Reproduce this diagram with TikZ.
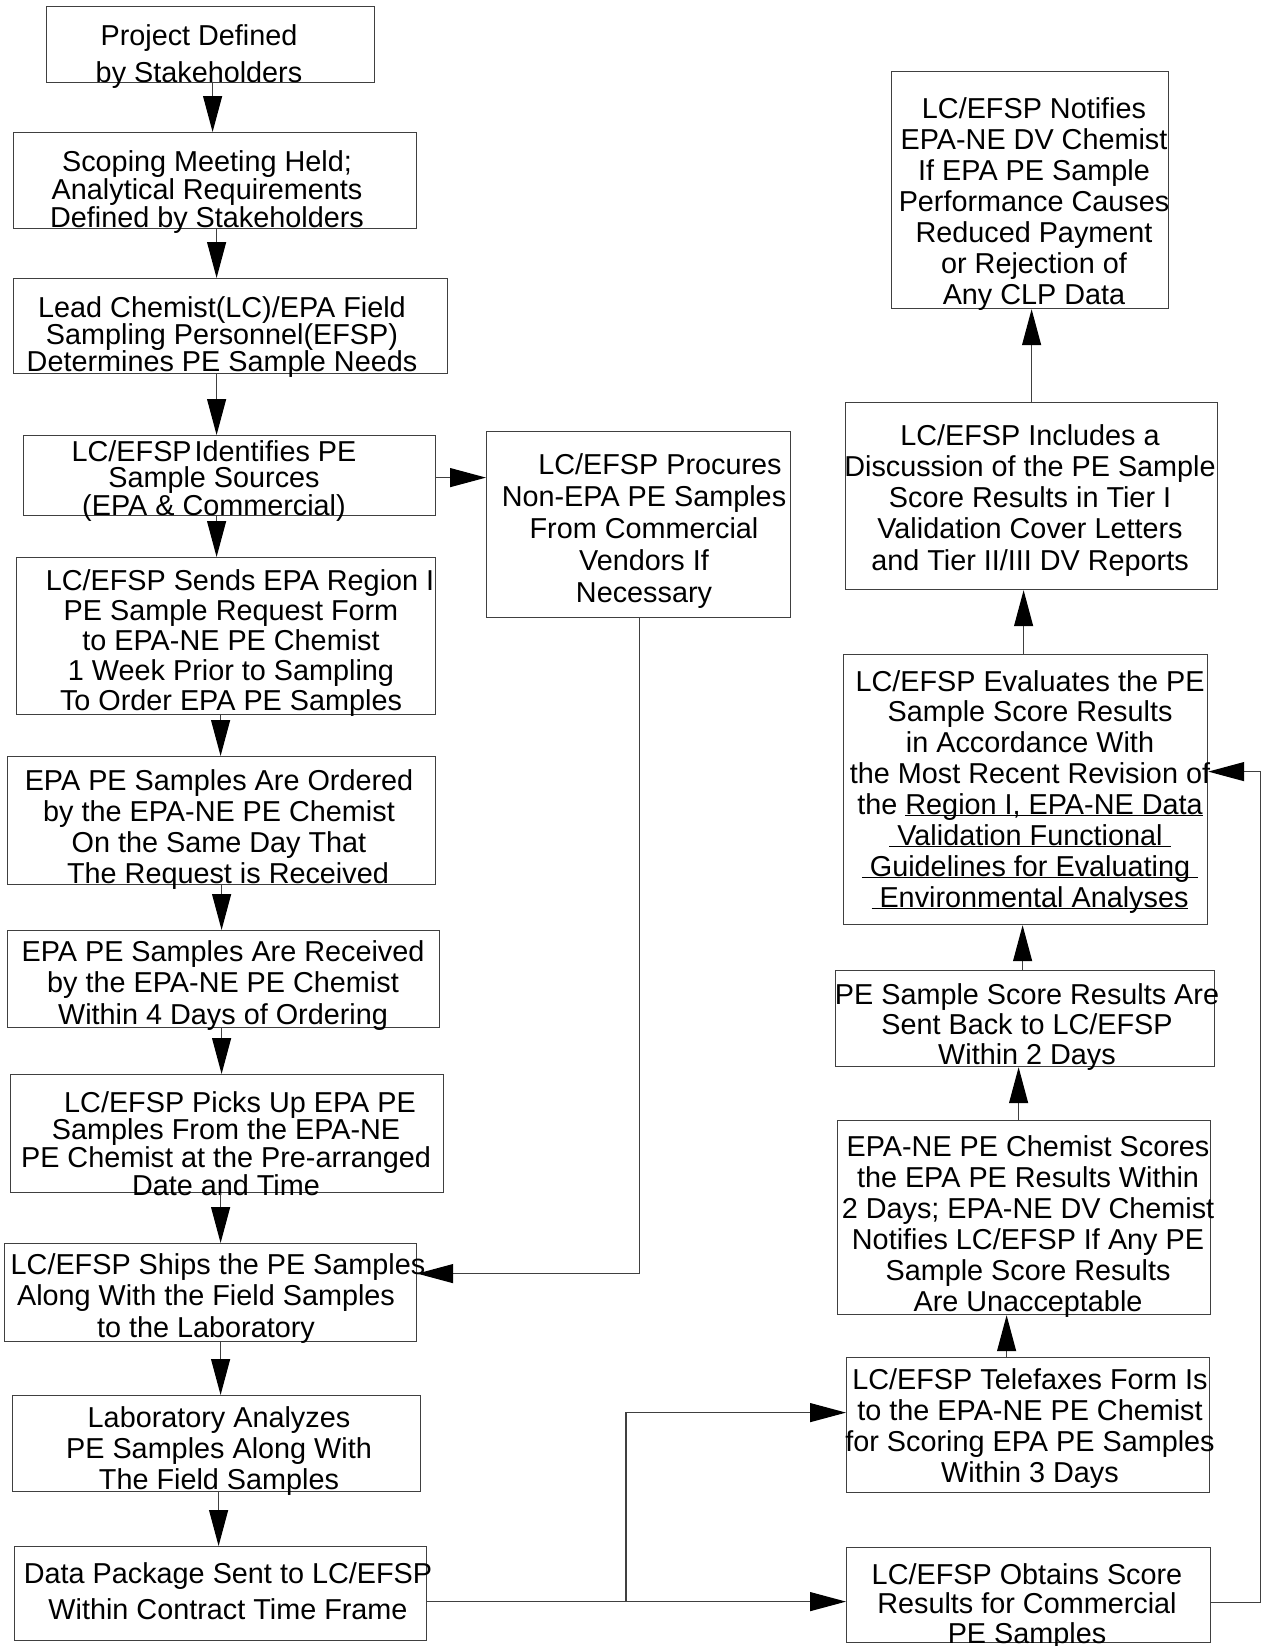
\documentclass[tikz,border=0pt]{standalone}
\usepackage{fontspec}
\setmainfont{Liberation Sans}
\usetikzlibrary{arrows.meta}
\newsavebox\ulbox
\newcommand{\bul}[1]{\sbox\ulbox{#1}\rlap{\rule[-1.5pt]{\wd\ulbox}{1.1pt}}\usebox\ulbox}
\begin{document}
\begin{tikzpicture}[x=1pt,y=-1pt,
  box/.style={draw=black!75, line width=1.2pt, inner sep=0pt, anchor=north west},
  txt/.style={font=\fontsize{28.8}{#1}\selectfont, align=center, inner sep=0pt, anchor=north},
  txt/.default=31,
  arr/.style={draw=black!75, line width=1.2pt, -{Triangle[length=36pt,width=19pt,color=black]}}]
\fill[white] (0,0) rectangle (1264,1646);
\useasboundingbox (0,0) rectangle (1264,1646);

% left column
\node[box,minimum width=328pt,minimum height=76pt] (b1) at (46,6) {};
\node[txt=37] (t1) at (199,24) {Project Defined\\by Stakeholders};

\node[box,minimum width=403pt,minimum height=96pt] (b2) at (13,132) {};
\node[txt=28] (t2) at (207,150) {Scoping Meeting Held;\\Analytical Requirements\\Defined by Stakeholders};

\node[box,minimum width=434pt,minimum height=95pt] (b3) at (13,278) {};
\node[txt=27] (t3) at (222,296) {Lead Chemist(LC)/EPA Field\\Sampling Personnel(EFSP)\\Determines PE Sample Needs};

\node[box,minimum width=412pt,minimum height=80pt] (b4) at (23,435) {};
\node[txt=26.5] (t4) at (214,440) {LC/EFSP\hspace{3pt}Identifies PE\\Sample Sources\\(EPA \& Commercial)};

\node[box,minimum width=419pt,minimum height=157pt] (b5) at (16,557) {};
\node[txt=30] (t5) at (231,569) {\hspace*{18pt}LC/EFSP Sends EPA Region I\\PE Sample Request Form\hspace*{24pt}\\to EPA-NE PE Chemist\\1 Week Prior to Sampling\\To Order EPA PE Samples};

\node[box,minimum width=428pt,minimum height=128pt] (b6) at (7,756) {};
\node[txt=31] (t6) at (219,769) {EPA PE Samples Are Ordered\\by the EPA-NE PE Chemist\\On the Same Day That\\\hspace*{18pt}The Request is Received};

\node[box,minimum width=432pt,minimum height=97pt] (b7) at (7,930) {};
\node[txt=31.5] (t7) at (223,940) {EPA PE Samples Are Received\\by the EPA-NE PE Chemist\hspace*{58pt}\\Within 4 Days of Ordering};

\node[box,minimum width=433pt,minimum height=118pt] (b8) at (10,1074) {};
\node[txt=26.5] (t8) at (226,1091) {\hspace*{28pt}LC/EFSP Picks Up EPA PE\\Samples From the EPA-NE\\PE Chemist at the Pre-arranged\\Date and Time};

\node[box,minimum width=412pt,minimum height=98pt] (b9) at (4,1243) {};
\node[txt=31.5] (t9) at (206,1253) {\hspace*{24pt}LC/EFSP Ships the PE Samples\\Along With the Field Samples\\to the Laboratory};

\node[box,minimum width=408pt,minimum height=96pt] (b10) at (12,1395) {};
\node[txt=31] (t10) at (219,1406) {Laboratory Analyzes\\PE Samples Along With\\The Field Samples};

\node[box,minimum width=412pt,minimum height=94pt] (b11) at (14,1546) {};
\node[txt=36] (t11) at (228,1562) {Data Package Sent to LC/EFSP\\Within Contract Time Frame};

% middle
\node[box,minimum width=304pt,minimum height=186pt] (b12) at (486,431) {};
\node[txt=32] (t12) at (644,453) {\hspace*{32pt}LC/EFSP Procures\\Non-EPA PE Samples\\From Commercial\\Vendors If\\Necessary};

% right column
\node[box,minimum width=277pt,minimum height=237pt] (r1) at (891,71) {};
\node[txt=31] (s1) at (1034,97) {LC/EFSP Notifies\\EPA-NE DV Chemist\\If EPA PE Sample\\Performance Causes\\Reduced Payment\\or Rejection of\\Any CLP Data};

\node[box,minimum width=372pt,minimum height=187pt] (r2) at (845,402) {};
\node[txt=31.25] (s2) at (1030,424) {LC/EFSP Includes a\\Discussion of the PE Sample\\Score Results in Tier I\\Validation Cover Letters\\and Tier II/III DV Reports};

\node[box,minimum width=364pt,minimum height=270pt] (r3) at (843,654) {};
\node[txt=30.9] (s3) at (1030,670) {LC/EFSP Evaluates the PE\\Sample Score Results\\in Accordance With\\the Most Recent Revision of\\the \bul{Region I, EPA-NE Data}\\\bul{\ Validation Functional\ }\\\bul{\ Guidelines for Evaluating\ }\\\bul{\ Environmental Analyses}};

\node[box,minimum width=379pt,minimum height=96pt] (r4) at (835,970) {};
\node[txt=30] (s4) at (1027,983) {PE Sample Score Results Are\\Sent Back to LC/EFSP\\Within 2 Days};

\node[box,minimum width=373pt,minimum height=194pt] (r5) at (837,1120) {};
\node[txt=31] (s5) at (1028,1135) {EPA-NE PE Chemist Scores\\the EPA PE Results Within\\2 Days; EPA-NE DV Chemist\\Notifies LC/EFSP If Any PE\\Sample Score Results\\Are Unacceptable};

\node[box,minimum width=363pt,minimum height=135pt] (r6) at (846,1357) {};
\node[txt=31.3] (s6) at (1030,1368) {LC/EFSP Telefaxes Form Is\\to the EPA-NE PE Chemist\\for Scoring EPA PE Samples\\Within 3 Days};

\node[box,minimum width=364pt,minimum height=95pt] (r7) at (846,1547) {};
\node[txt=29.5] (s7) at (1027,1563) {LC/EFSP Obtains Score\\Results for Commercial\\PE Samples};

% left column arrows
\draw[arr] ([xshift=2pt]b1.south) -- ([xshift=2pt]b1.south |- b2.north);
\draw[arr] ([xshift=1.5pt]b2.south) -- ([xshift=1.5pt]b2.south |- b3.north);
\draw[arr] ([xshift=-14pt]b3.south) -- ([xshift=-14pt]b3.south |- b4.north);
\draw[arr] ([xshift=-13pt]b4.south) -- ([xshift=-13pt]b4.south |- b5.north);
\draw[arr] ([xshift=-5.5pt]b5.south) -- ([xshift=-5.5pt]b5.south |- b6.north);
\draw[arr] (b6.south) -- (b6.south |- b7.north);
\draw[arr] ([xshift=-2pt]b7.south) -- ([xshift=-2pt]b7.south |- b8.north);
\draw[arr] ([xshift=-6.5pt]b8.south) -- ([xshift=-6.5pt]b8.south |- b9.north);
\draw[arr] ([xshift=10pt]b9.south) -- ([xshift=10pt]b9.south |- b10.north);
\draw[arr] ([xshift=2pt]b10.south) -- ([xshift=2pt]b10.south |- b11.north);

% side branch
\draw[arr] ([yshift=-2pt]b4.east) -- ([yshift=-2pt]b4.east -| b12.west);
\draw[arr] ([xshift=1pt]b12.south) |- ([yshift=19pt]b9.east);

% bottom connections
\coordinate (split) at (626,1601);
\draw[arr] ([yshift=-8pt]b11.east) -- ([yshift=-8pt]b11.east -| r7.west);
\draw[arr] (split) |- ([yshift=12.5pt]r6.west);
\draw[arr] ([yshift=-7.5pt]r7.east) -- ++(49,0) |- ([yshift=18pt]r3.east);

% right column arrows (upward)
\draw[arr] ([xshift=-21.5pt]r6.north) -- ([xshift=-21.5pt]r6.north |- r5.south);
\draw[arr] ([xshift=-5.5pt]r5.north) -- ([xshift=-5.5pt]r5.north |- r4.south);
\draw[arr] ([xshift=-2.5pt]r4.north) -- ([xshift=-2.5pt]r4.north |- r3.south);
\draw[arr] ([xshift=-2pt]r3.north) -- ([xshift=-2pt]r3.north |- r2.south);
\draw[arr] (r2.north) -- (r2.north |- r1.south);
\end{tikzpicture}
\end{document}
